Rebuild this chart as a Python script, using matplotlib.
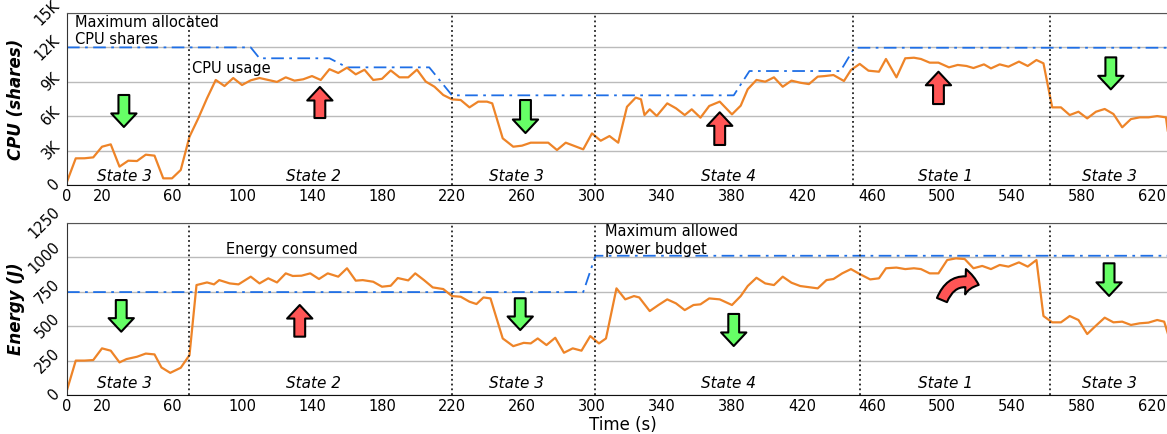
import matplotlib
matplotlib.use("Agg")
import matplotlib.pyplot as plt
from matplotlib.patches import FancyArrowPatch

# ---------------- data ----------------
cpu_t = [0, 5, 10, 15, 20, 25, 30, 35, 40, 45, 50, 55, 60, 65, 70, 75, 80, 85,
         90, 95, 100, 105, 110, 115, 120, 125, 130, 135, 140, 145, 150, 155, 160,
         165, 170, 175, 180, 185, 190, 195, 200, 205, 210, 215, 220, 225, 230,
         235, 240, 243, 249, 255, 260, 265, 270, 275, 280, 285, 290, 295, 300,
         305, 310, 315, 320, 325, 328, 330, 333, 337, 343, 348, 353, 357, 362,
         367, 373, 380, 385, 389, 394, 399, 404, 409, 414, 419, 424, 429, 433,
         438, 444, 448, 453, 458, 464, 468, 474, 479, 484, 488, 493, 498, 504,
         509, 514, 518, 524, 528, 533, 538, 544, 549, 554, 558, 563, 568, 573,
         578, 583, 588, 593, 598, 603, 608, 613, 618, 623, 628, 629]
cpu_usage = [290, 2325, 2330, 2410, 3340, 3545, 1600, 2120, 2090, 2645, 2560,
             580, 580, 1310, 4215, 5810, 7560, 9160, 8630, 9330, 8720, 9130,
             9330, 9160, 8990, 9390, 9100, 9220, 9500, 9160, 10100, 9770, 10230,
             9650, 10050, 9160, 9260, 9990, 9390, 9390, 10060, 9020, 8570, 7850,
             7470, 7410, 6770, 7270, 7270, 7120, 4070, 3340, 3430, 3690, 3690,
             3690, 3050, 3690, 3400, 3110, 4500, 3860, 4270, 3690, 6820, 7620,
             7470, 6100, 6600, 6020, 7120, 6690, 6100, 6600, 5870, 6890, 7270,
             6160, 6920, 8350, 9160, 9010, 9390, 8570, 9100, 8920, 8800, 9450,
             9500, 9590, 9070, 10030, 10560, 9970, 9880, 10990, 9390, 11050,
             11100, 10990, 10670, 10670, 10260, 10470, 10380, 10200, 10520,
             10170, 10520, 10320, 10760, 10380, 10900, 10610, 6770, 6770, 6100,
             6390, 5810, 6390, 6630, 6190, 5030, 5750, 5900, 5900, 6010, 5900,
             4750]
cpu_max_t = [0, 105, 110, 150, 160, 207, 220, 381, 390, 442, 450, 640]
cpu_max = [12000, 12000, 11050, 11050, 10260, 10260, 7820, 7820, 9940, 9940,
           11970, 11970]

en_t = [0, 5, 10, 15, 20, 25, 30, 34, 40, 45, 50, 54, 59, 65, 70, 74, 80, 84,
        87, 93, 98, 105, 110, 115, 120, 125, 129, 134, 139, 144, 149, 155, 160,
        165, 169, 175, 180, 185, 189, 195, 199, 204, 209, 215, 220, 225, 230,
        234, 238, 242, 249, 255, 261, 265, 269, 274, 279, 284, 289, 294, 299,
        304, 308, 314, 319, 324, 327, 333, 338, 343, 348, 353, 358, 362, 367,
        373, 380, 385, 389, 394, 399, 404, 409, 414, 419, 429, 434, 438, 443,
        448, 453, 459, 464, 468, 474, 479, 484, 488, 493, 498, 503, 508, 513,
        518, 523, 528, 533, 538, 544, 549, 554, 558, 563, 568, 573, 578, 583,
        588, 593, 598, 603, 608, 613, 618, 623, 627, 629]
energy = [36, 250, 250, 254, 339, 322, 237, 261, 278, 301, 295, 200, 161, 198,
          290, 799, 818, 804, 835, 811, 804, 860, 811, 848, 818, 884, 865, 867,
          884, 843, 884, 860, 921, 831, 835, 823, 787, 794, 850, 833, 884, 835,
          782, 770, 719, 714, 678, 661, 709, 702, 411, 355, 379, 375, 411, 363,
          416, 307, 339, 322, 428, 375, 411, 775, 695, 719, 709, 610, 654, 695,
          666, 617, 654, 659, 702, 695, 654, 719, 792, 852, 811, 799, 860, 816,
          792, 775, 835, 843, 884, 915, 879, 840, 848, 921, 926, 915, 921, 915,
          884, 884, 981, 993, 988, 921, 938, 915, 945, 933, 964, 933, 981, 574,
          528, 528, 574, 545, 443, 504, 562, 528, 533, 509, 521, 526, 545, 533,
          450]
en_max_t = [0, 295, 302, 640]
en_max = [748, 748, 1012, 1012]

state_bounds_cpu = [70, 220, 302, 449, 562]
state_bounds_en = [70, 220, 302, 453, 562]
state_names = ["State 3", "State 2", "State 3", "State 4", "State 1", "State 3"]
state_x = [33, 141, 257, 378, 502, 596]

xticks = [0, 20, 60, 100, 140, 180, 220, 260, 300, 340, 380, 420, 460, 500,
          540, 580, 620]
cpu_yticks = [0, 3000, 6000, 9000, 12000, 15000]
cpu_yticklabels = ["0", "3K", "6K", "9K", "12K", "15K"]
en_yticks = [0, 250, 500, 750, 1000, 1250]

ORANGE = "#EE8428"
BLUE = "#1F6FE6"
GREEN = "#66FF66"
RED = "#FF5555"

plt.rcParams['font.family'] = ['DejaVu Sans']

fig = plt.figure(figsize=(11.67, 4.34), dpi=100)
ax1 = fig.add_axes([67/1167, 1-185/434, 1-67/1167 + 0.01, 172/434])
ax2 = fig.add_axes([67/1167, 1-395/434, 1-67/1167 + 0.01, 172/434])

AXW = 1100 + 0.01 * 1167
XMAX = 628.6 * AXW / 1100
LABEL_X = (25 - 67) / AXW


def style(ax, yticks, ylabels, ylim):
    ax.set_xlim(0, XMAX)
    ax.set_ylim(*ylim)
    ax.set_xticks(xticks)
    ax.set_xticklabels([str(v) for v in xticks], fontsize=10.5)
    ax.set_yticks(yticks)
    ax.set_yticklabels(ylabels, fontsize=10.5, rotation=45, va='center',
                       ha='right')
    ax.tick_params(length=0, pad=3)
    ax.grid(axis='y', color='#bbbbbb', lw=1)
    ax.set_axisbelow(True)
    ax.spines['right'].set_visible(False)
    ax.spines['top'].set_color('#555555')
    ax.spines['left'].set_color('#333333')
    ax.spines['bottom'].set_color('#111111')


def arrow(ax, x, y0, y1, color):
    p = FancyArrowPatch((x, y0), (x, y1),
                        arrowstyle='simple,head_length=0.75,head_width=1.4,tail_width=0.6',
                        mutation_scale=13, fc=color, ec='black', lw=1.5,
                        shrinkA=0, shrinkB=0, zorder=5)
    ax.add_patch(p)


# ---------- CPU panel ----------
style(ax1, cpu_yticks, cpu_yticklabels, (0, 15000))
ax1.plot(cpu_max_t, cpu_max, color=BLUE, lw=1.3, ls='-.', dashes=(7, 3, 1.5, 3))
ax1.plot(cpu_t, cpu_usage, color=ORANGE, lw=1.6)
for b in state_bounds_cpu:
    ax1.axvline(b, color='#222222', ls=':', lw=1.3)
for sx, name in zip(state_x, state_names):
    ax1.text(sx, 780, name, fontsize=11, style='italic', ha='center', va='center')
ax1.text(4.5, 14850, "Maximum allocated\nCPU shares", fontsize=10.5, va='top',
         ha='left', linespacing=1.2)
ax1.text(71.5, 10200, "CPU usage", fontsize=10.5, va='center', ha='left')
ax1.set_ylabel("CPU (shares)", fontsize=12, fontweight='bold', style='italic')
ax1.yaxis.set_label_coords(LABEL_X, 0.5)
arrow(ax1, 32.5, 7850, 5060, GREEN)
arrow(ax1, 144.5, 5840, 8550, RED)
arrow(ax1, 262, 7410, 4530, GREEN)
arrow(ax1, 373, 3490, 6340, RED)
arrow(ax1, 498, 7060, 9880, RED)
arrow(ax1, 596.5, 11130, 8340, GREEN)

# ---------- Energy panel ----------
style(ax2, en_yticks, [str(v) for v in en_yticks], (0, 1250))
ax2.plot(en_max_t, en_max, color=BLUE, lw=1.3, ls='-.', dashes=(7, 3, 1.5, 3))
ax2.plot(en_t, energy, color=ORANGE, lw=1.6)
for b in state_bounds_en:
    ax2.axvline(b, color='#222222', ls=':', lw=1.3)
for sx, name in zip(state_x, state_names):
    ax2.text(sx, 85, name, fontsize=11, style='italic', ha='center', va='center')
ax2.text(128.5, 1060, "Energy consumed", fontsize=10.5, va='center', ha='center')
ax2.text(307.5, 1240, "Maximum allowed\npower budget", fontsize=10.5, va='top',
         ha='left', linespacing=1.2)
ax2.set_ylabel("Energy (J)", fontsize=12, fontweight='bold', style='italic')
ax2.yaxis.set_label_coords(LABEL_X, 0.5)
ax2.set_xlabel("Time (s)", fontsize=12, labelpad=1)
arrow(ax2, 31, 690, 460, GREEN)
arrow(ax2, 133, 424, 654, RED)
arrow(ax2, 259, 703, 472, GREEN)
arrow(ax2, 381, 589, 356, GREEN)
arrow(ax2, 595.5, 957, 720, GREEN)
curved = FancyArrowPatch((500, 690), (521, 800),
                         connectionstyle='arc3,rad=-0.5',
                         arrowstyle='simple,head_length=0.75,head_width=1.4,tail_width=0.6',
                         mutation_scale=13, fc=RED, ec='black', lw=1.5,
                         shrinkA=0, shrinkB=0, zorder=5)
ax2.add_patch(curved)

fig.savefig("out.png", dpi=100)
